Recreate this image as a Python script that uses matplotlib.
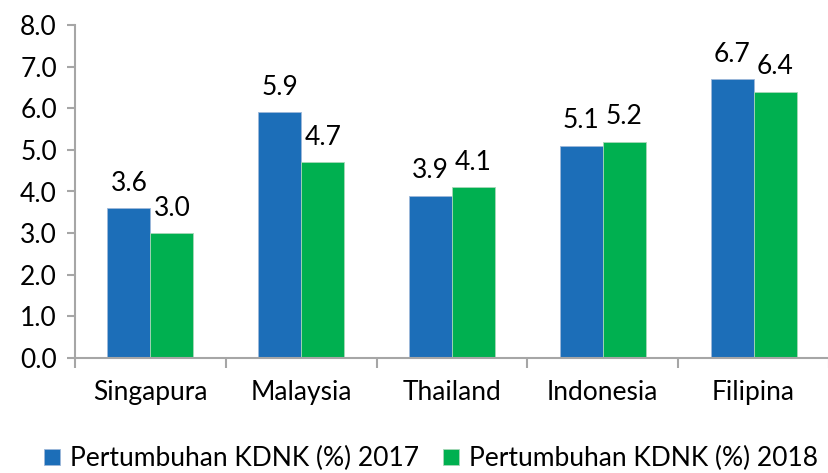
import numpy as np
import matplotlib.pyplot as plt

plt.rcParams['font.family'] = ['Lato', 'DejaVu Sans']

countries = ['Singapura', 'Malaysia', 'Thailand', 'Indonesia', 'Filipina']
growth_2017 = [3.6, 5.9, 3.9, 5.1, 6.7]
growth_2018 = [3.0, 4.7, 4.1, 5.2, 6.4]
series_labels = ['Pertumbuhan KDNK (%) 2017', 'Pertumbuhan KDNK (%) 2018']

blue = '#1C6EB8'
green = '#00B050'
axis_grey = '#A6A6A6'
fs = 19

fig = plt.figure(figsize=(8.29, 4.73), dpi=100)
ax = fig.add_axes([75 / 829, 1 - 358 / 473, 754 / 829, (358 - 25) / 473])

x = np.arange(len(countries))
w = 0.285
b1 = ax.bar(x - w / 2, growth_2017, w, color=blue, edgecolor='#9DB8D9', linewidth=0.6,
            label=series_labels[0])
b2 = ax.bar(x + w / 2, growth_2018, w, color=green, edgecolor='#A8D8B8', linewidth=0.6,
            label=series_labels[1])

for bars, vals in [(b1, growth_2017), (b2, growth_2018)]:
    for rect, v in zip(bars, vals):
        ax.annotate(f'{v:.1f}', (rect.get_x() + rect.get_width() / 2, v),
                    xytext=(0, 9), textcoords='offset points',
                    ha='center', va='bottom', fontsize=fs)

ax.set_ylim(0, 8)
ax.set_yticks(np.arange(0, 9, 1))
ax.set_yticklabels([f'{v:.1f}' for v in range(9)], fontsize=fs)
ax.set_xlim(-0.5, 4.46)

# category labels centred, tick marks at category boundaries
ax.set_xticks(x)
ax.set_xticklabels(countries, fontsize=fs)
ax.tick_params(axis='x', length=0, pad=16)
ax.set_xticks(np.arange(-0.5, 5, 1), minor=True)
ax.tick_params(axis='x', which='minor', length=7, width=1.5, color=axis_grey, direction='out')
ax.tick_params(axis='y', length=6, width=1.5, color=axis_grey, pad=7)

for s in ['top', 'right']:
    ax.spines[s].set_visible(False)
for s in ['left', 'bottom']:
    ax.spines[s].set_color(axis_grey)
    ax.spines[s].set_linewidth(1.5)

fig.legend(loc='center', bbox_to_anchor=(0.52, 0.03), ncol=2, frameon=False,
           fontsize=fs, handlelength=0.6, handleheight=0.6, handletextpad=0.4,
           columnspacing=0.9)

fig.savefig('out.png', dpi=100)
